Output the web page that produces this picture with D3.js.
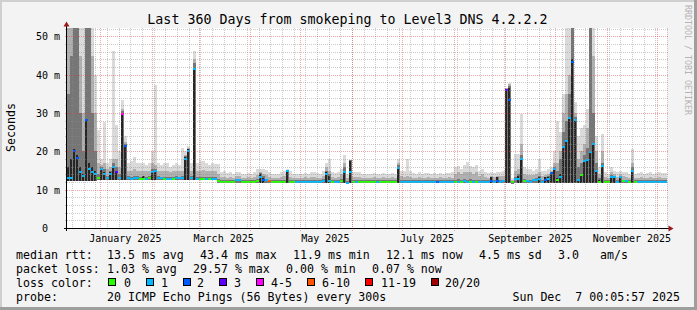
<!DOCTYPE html>
<html><head><meta charset="utf-8">
<script src="https://cdn.jsdelivr.net/npm/d3@7"></script>
<style>
html,body{margin:0;padding:0;background:#f3f3f3;}
svg{display:block;}
text{font-family:"DejaVu Sans Mono",monospace;white-space:pre;}
</style></head><body>
<svg id="chart" width="697" height="310"></svg>
<script>
// ---------------- DATA (one value per 1.8-day bucket) ----------------
const medianMs = [
13.0,13.0,20.2,18.2,14.5,13.5,28.2,15.3,14.6,14.0,
13.0,15.3,14.1,13.0,14.0,15.8,14.6,13.0,29.8,21.5,
13.0,12.9,13.0,13.0,12.8,12.8,12.9,13.0,14.6,14.8,
13.0,13.0,12.9,12.9,12.9,12.8,13.0,13.0,13.0,18.1,
20.2,13.0,41.6,12.8,12.8,12.8,12.8,12.8,12.8,12.9,
12.2,12.1,12.1,12.1,12.1,12.1,12.5,12.5,12.1,12.1,
12.1,12.1,12.1,12.2,13.3,12.5,12.4,12.2,12.1,12.1,
12.1,12.1,12.1,14.8,12.1,12.1,12.1,12.1,12.1,12.1,
12.1,12.1,12.1,12.1,12.1,12.2,14.1,12.3,12.1,12.1,
12.1,12.2,14.7,11.8,14.6,12.1,12.1,12.1,12.1,12.1,
12.1,12.1,12.1,12.1,12.1,12.1,12.1,12.1,12.1,12.1,
15.7,12.1,12.1,12.1,12.1,12.1,12.1,12.1,12.1,12.1,
12.1,12.1,12.1,12.1,12.1,12.1,12.1,12.1,12.1,12.1,
12.1,12.1,12.2,12.1,12.1,12.1,12.1,12.1,12.1,12.1,
12.1,12.3,12.1,12.3,12.1,12.2,35.9,33.3,11.9,12.8,
12.7,18.1,12.3,12.2,12.1,12.5,12.6,12.8,12.1,12.6,
12.8,14.3,15.4,12.4,13.3,21.1,22.8,28.7,43.3,28.1,
12.5,13.9,17.6,17.8,19.9,22.0,15.0,12.1,16.1,12.1,
12.1,13.3,13.3,12.1,13.3,12.3,12.2,12.1,14.8,12.1,
12.1,12.1,12.1,12.1,12.1,12.1,12.1,12.1,12.1,12.1];

// loss class index per bucket (0 = no loss ... 7 = 20/20)
const lossClass = [
1,1,2,2,1,1,2,1,1,1, 0,1,1,1,1,1,3,1,4,2, 1,1,1,1,0,0,1,0,1,1, 1,1,0,1,1,0,1,1,1,1,
1,1,1,1,0,0,1,0,1,1, 0,0,0,0,0,0,1,1,0,0, 0,0,0,0,1,2,1,5,0,0, 0,0,0,1,0,0,1,1,1,1,
1,1,1,1,1,1,1,1,0,1, 1,0,1,1,1,0,1,0,0,0, 0,0,0,1,0,0,0,0,0,0, 1,1,1,1,1,1,1,1,1,1,
1,1,1,2,1,1,1,1,1,0, 1,0,1,1,0,1,0,1,1,1, 1,2,1,2,1,1,3,2,0,1, 1,1,0,1,1,1,1,1,1,2,
1,2,1,0,1,1,1,1,2,1, 1,0,1,1,1,1,1,0,1,0, 0,1,1,1,1,0,1,0,1,0, 1,1,1,1,1,1,1,1,1,1];

// smoke: lowest ping, then tops of the darkest ... lightest shade bands (ms); 55 = off scale
const smokeLo = [
12.2,12.2,12.2,12.2,12.2,12.2,12.2,12.2,12.2,12.2,
12.4,12.4,12.4,12.4,12.4,12.4,12.4,12.4,12.4,12.4,
12.4,12.4,12.4,12.4,12.4,12.4,12.4,12.4,12.4,12.4,
12.4,12.4,12.4,12.4,12.4,12.4,12.4,12.4,12.4,12.4,
12.4,12.4,12.4,12.4,12.4,12.4,12.4,12.4,12.4,12.4,
11.8,11.8,11.8,11.8,11.8,11.8,11.8,11.8,11.8,11.8,
11.8,11.8,11.8,11.8,11.8,11.8,11.8,11.8,11.8,11.8,
11.8,11.8,11.8,11.8,11.8,11.8,11.8,11.8,11.8,11.8,
11.8,11.8,11.8,11.8,11.8,11.8,11.8,11.8,11.8,11.8,
11.8,11.8,11.8,11.5,11.8,11.8,11.8,11.8,11.8,11.8,
11.8,11.8,11.8,11.8,11.8,11.8,11.8,11.8,11.8,11.8,
11.8,11.8,11.8,11.8,11.8,11.8,11.8,11.8,11.8,11.8,
11.8,11.8,11.8,11.8,11.8,11.8,11.8,11.8,11.8,11.8,
11.8,11.8,11.8,11.8,11.8,11.8,11.8,11.8,11.8,11.8,
11.8,11.8,11.8,11.8,11.8,11.8,11.8,11.8,11.5,11.8,
11.8,11.8,11.8,11.8,11.8,11.8,11.8,11.8,11.8,11.8,
11.8,11.8,11.8,11.8,11.8,11.8,11.8,11.8,11.8,11.8,
11.8,11.8,11.8,11.8,11.8,11.8,11.8,11.8,11.8,11.8,
11.8,11.8,11.8,11.8,11.8,11.8,11.8,11.8,11.8,11.8,
11.8,11.8,11.8,11.8,11.8,11.8,11.8,11.8,11.8,11.8];

const smokeCore = [
16,18,20.5,19,16,14,28.5,17,16,15,
12.4,15.5,14.5,12.4,14.5,16,15,12.4,30,21.5,
12.4,12.4,12.4,12.4,12.4,13.7,12.4,12.4,14.8,15,
12.4,12.4,12.4,12.4,12.4,12.4,12.4,12.4,12.4,18.5,
20.5,12.4,41.8,12.4,12.4,12.4,12.4,12.4,12.4,12.5,
11.8,11.8,11.8,11.8,11.8,11.8,11.8,11.8,11.8,11.8,
11.8,11.8,11.8,11.8,14,13,11.8,11.8,11.8,11.8,
11.8,11.8,11.8,15,11.8,11.8,11.8,11.8,11.8,11.8,
11.8,11.8,11.8,11.8,11.8,11.8,14.5,13.5,11.8,11.8,
11.8,11.8,15,11.5,17.6,11.8,11.8,11.8,11.8,11.8,
11.8,11.8,11.8,11.8,11.8,11.8,11.8,11.8,11.8,11.8,
16,11.8,11.8,11.8,11.8,11.8,11.8,11.8,11.8,11.8,
11.8,11.8,11.8,11.8,11.8,11.8,11.8,11.8,11.8,11.8,
11.8,11.8,11.8,11.8,11.8,11.8,11.8,11.8,11.8,11.8,
11.8,13.3,11.8,13.3,11.8,11.8,36.3,36.5,11.5,11.8,
13.5,18.2,11.8,11.8,11.8,11.8,11.8,13.3,11.8,13.3,
13.3,14.5,15.5,13,14,21.5,23,29,44,28.3,
12.5,14.2,17.8,18,20,22.2,15.2,12.5,16.3,11.8,
11.8,13.5,13.4,11.8,13.5,11.8,11.8,11.8,15,11.8,
11.8,11.8,11.8,11.8,11.8,11.8,11.8,11.8,11.8,11.8];

const smokeDark = [
35,45,55,55,30,20,55,55,30,20,
14,16,15.5,13.5,15,17,16,14,30.5,22,
13.5,13.4,13.5,13.5,13.3,13.7,13.4,13.5,15.5,15.5,
13.5,13.4,13.4,13.4,13.3,13.3,13.5,13.4,13.5,18.7,
20.7,13.5,43,13.3,13.3,13.3,13.3,13.2,13.3,13.4,
12.8,12.4,12.4,12.4,12.4,12.4,12.9,12.9,12.4,12.4,
12.4,12.4,12.4,12.7,14.3,13.5,12.9,12.6,12.4,12.4,
12.4,12.4,12.4,15.1,12.4,12.4,12.4,12.4,12.4,12.4,
12.4,12.4,12.4,12.4,12.4,12.8,15,14,12.4,12.4,
12.4,12.8,16,12.2,17.7,12.4,12.4,12.4,12.4,12.4,
12.4,12.4,12.4,12.4,12.4,12.4,12.4,12.4,12.4,12.4,
16.5,12.4,12.4,12.4,12.4,12.4,12.4,12.4,12.4,12.4,
12.4,12.4,12.4,12.4,12.4,12.4,12.4,12.4,12.4,12.6,
12.8,12.6,12.8,12.6,12.8,12.6,12.6,12.5,12.6,12.4,
12.4,13.4,12.4,13.4,12.5,12.6,36.4,37,12.1,13.2,
14,19,12.8,12.6,12.5,12.9,13,13.6,12.6,13.4,
13.5,14.7,16,15,18,25,28,35,55,29,
16,17,19,21,55,30,17,13,17,12.4,
12.4,13.8,13.6,12.4,13.6,12.6,12.5,12.4,16,12.4,
12.4,12.4,12.4,12.4,12.4,12.4,12.4,12.4,12.4,12.4];

const smokeMid = [
55,55,55,55,45,30,55,55,45,30,
17,16.5,17,15.5,16,18,18,16,31,22.5,
15,15,15.5,15,15,15,14.8,15,17,16.5,
15,14.8,15,15,14.5,14.8,15,14.8,15,19,
21,15,44,15,15,15.2,15,14.8,15,15,
14,13.2,13.2,13,13.2,13,13.5,13.5,13,13,
13.2,13,13.2,13.8,14.6,14,13.8,13.2,13,13,
13,13.2,13.5,15.2,13.3,13,13,13,13,13.2,
13,13.2,13.2,13,13,13.5,16,15,13.2,13,
13.2,14,17,13,17.7,13.2,13.2,13.2,13,13,
13,13,13.2,13,13,13.2,13,13,13.2,13,
17,13.5,13.2,13.5,13.2,13,13,13.2,13,13,
13.2,13,13,13,13.2,13,13,13.2,13,14,
14.5,14,14.5,14.5,14.5,14,14.5,13.5,14,13.2,
13,13.5,13.2,13.5,13.5,13.5,36.5,37.5,12.5,15,
15.5,22,14,13.8,13.8,13.8,14,14.5,13.5,13.8,
14,15,17,17,20,30,35,40,55,30,
18,20,22,26,55,45,20,14,20,13.2,
13,14.5,14,13.2,14,13.5,13.3,13,17,13,
13,13.2,13,13,13.2,13,13,13.2,13,13];

const smokeHi = [
55,55,55,55,55,55,55,55,55,40,
25.5,18,27.6,17,18,46.3,27,20,33.3,24,
17,17.5,18.5,17,17,17,16.5,17,20.2,37.2,
17,16.5,17,17,16,16.5,17,16.5,21,20,
21.5,17,46.3,17,17.5,17.5,17,16.5,17,16.7,
16.7,14.5,14.8,14.3,14.5,14.2,14.6,14.6,14.2,14,
14.3,14,14.5,15.4,15.5,15.4,15.2,14.5,14,14.2,
14,14.5,15,15.5,14.8,14.2,14,14.2,14,14.3,
14.2,14.6,14.6,14.4,14.2,15,17,18,14.5,14.3,
14.5,15.5,19.1,14.2,17.8,14.6,14.6,14.5,14.2,14.2,
14.2,14,14.3,14.2,14,14.4,14.2,14,14.3,14.2,
18.1,14.8,15,18,15,14.4,14.2,14.5,14.2,14.4,
14.3,14.2,14.4,14.2,14.3,14.2,14.4,14.3,14.5,15.8,
16.3,15.5,16.5,17.2,16.3,15.8,16.5,15,15.5,14.5,
14.3,14.5,14.3,14.5,14.6,15,36.6,37.8,13,19.4,
19.4,29.8,16,15.5,15.5,15,15.5,18,15,15,
15.5,16,20,28,25,35,55,55,55,33,
24,26,27,31,55,55,24,16,24.6,14.5,
14,16,15,14.5,14.8,14.5,14.5,14,20.5,14.2,
14.3,14.5,14.2,14.4,14.5,14.2,14.3,14.5,14.4,14.3];

const lossLabels = ["0","1","2","3","4-5","6-10","11-19","20/20"];
const lossColors = ["#26ff00","#00b8ff","#0059ff","#6200ff","#ff00ff","#ff5500","#ff0000","#a10000"];
const yTickValues = [0,10,20,30,40,50];
const yTickLabels = ["0  ","10 m","20 m","30 m","40 m","50 m"];
const xLabelMonths = ["2025-01","2025-03","2025-05","2025-07","2025-09","2025-11"];
const xTickLabels = ["January 2025","March 2025","May 2025","July 2025","September 2025","November 2025"];
const titleText = "Last 360 Days from smokeping to Level3 DNS 4.2.2.2";
const rttStats = ["13.5 ms avg","43.4 ms max","11.9 ms min","12.1 ms now","4.5 ms sd","3.0","am/s"];
const lossStats = ["1.03 % avg","29.57 % max","0.00 % min","0.07 % now"];
const probeText = "20 ICMP Echo Pings (56 Bytes) every 300s";
const dateText = "Sun Dec  7 00:05:57 2025";
const endTime = new Date(Date.UTC(2025, 11, 7, 0, 5, 57));
const spanDays = 360, bucketDays = 1.8, yMax = 52.2;

// ---------------- LAYOUT ----------------
const W = 697, H = 310;
const L = 67, R = 667, T = 28, B = 228;
const rttX = [107,200,293,386,479,558,600];
const lossX = [107,193,286,372];
const boxX = [108,146,183,219,256,307,365,431];
const boxLabelX = [124,161,197,234,271,322,381,445];

const svg = d3.select("#chart");
svg.append("rect").attr("width", W).attr("height", H).attr("fill", "#f3f3f3");
svg.append("rect").attr("x",0).attr("y",0).attr("width",W).attr("height",2).attr("fill","#cfcfcf");
svg.append("rect").attr("x",0).attr("y",0).attr("width",2).attr("height",H).attr("fill","#cfcfcf");
svg.append("rect").attr("x",0).attr("y",H-3).attr("width",W).attr("height",3).attr("fill","#9e9e9e");
svg.append("rect").attr("x",W-3).attr("y",0).attr("width",3).attr("height",H).attr("fill","#9e9e9e");

const startTime = new Date(endTime.getTime() - spanDays * 864e5);
const x = d3.scaleUtc().domain([startTime, endTime]).range([L, R]);
const y = d3.scaleLinear().domain([0, yMax]).range([B, T]);
const N = medianMs.length;
const bt = i => new Date(startTime.getTime() + i * bucketDays * 864e5);

svg.append("defs").append("clipPath").attr("id","clip")
  .append("rect").attr("x",L).attr("y",T).attr("width",R-L).attr("height",B-T);
svg.append("rect").attr("x",L).attr("y",T).attr("width",R-L).attr("height",B-T).attr("fill","#ffffff");

const plot = svg.append("g").attr("clip-path","url(#clip)").attr("shape-rendering","crispEdges");
const idx = d3.range(N);
const bands = [
  {vals: smokeHi, color: "#dadada", narrow: 0},
  {vals: smokeMid, color: "#b0b0b0", narrow: 0},
  {vals: smokeDark, color: "#767676", narrow: 0},
  {vals: smokeCore, color: "#262626", narrow: 1}
];
bands.forEach(b => {
  plot.append("g").selectAll("rect").data(idx.filter(i => b.vals[i] > smokeLo[i])).join("rect")
    .attr("x", i => Math.round(x(bt(i))))
    .attr("width", i => Math.round(x(bt(i+1))) - Math.round(x(bt(i))) - b.narrow)
    .attr("y", i => Math.round(y(b.vals[i])))
    .attr("height", i => Math.round(y(smokeLo[i])) - Math.round(y(b.vals[i])))
    .attr("fill", b.color);
});
plot.append("g").selectAll("rect").data(idx).join("rect")
  .attr("x", i => Math.round(x(bt(i))))
  .attr("width", i => Math.round(x(bt(i+1))) - Math.round(x(bt(i))))
  .attr("y", i => Math.round(y(medianMs[i])) - 1)
  .attr("height", 2)
  .attr("fill", i => lossColors[lossClass[i]]);

// ---------------- GRID ----------------
const grid = svg.append("g").attr("shape-rendering","crispEdges").attr("stroke-dasharray","1,1");
const minorY = d3.range(2, yMax, 2).filter(v => v % 10 !== 0);
grid.selectAll(".hmin").data(minorY).join("line")
  .attr("x1", L-2).attr("x2", R+2)
  .attr("y1", v => Math.round(y(v)) + 0.5).attr("y2", v => Math.round(y(v)) + 0.5)
  .attr("stroke", "rgba(140,140,140,0.45)");
const weeks = d3.utcSunday.range(startTime, endTime);
grid.selectAll(".vmin").data(weeks).join("line")
  .attr("x1", d => Math.round(x(d)) + 0.5).attr("x2", d => Math.round(x(d)) + 0.5)
  .attr("y1", T).attr("y2", B + 2)
  .attr("stroke", "rgba(140,140,140,0.45)");
grid.selectAll(".hmaj").data(yTickValues.filter(v => v > 0)).join("line")
  .attr("x1", L-2).attr("x2", R+2)
  .attr("y1", v => Math.round(y(v)) + 0.5).attr("y2", v => Math.round(y(v)) + 0.5)
  .attr("stroke", "rgba(220,60,60,0.45)");
const months = d3.utcMonth.range(startTime, endTime);
grid.selectAll(".vmaj").data(months).join("line")
  .attr("x1", d => Math.round(x(d)) + 0.5).attr("x2", d => Math.round(x(d)) + 0.5)
  .attr("y1", T).attr("y2", B + 3)
  .attr("stroke", "rgba(220,60,60,0.45)");

// ---------------- AXES ----------------
const ax = svg.append("g").attr("shape-rendering","crispEdges");
ax.append("line").attr("x1", L-3).attr("x2", R+3).attr("y1", B+0.5).attr("y2", B+0.5).attr("stroke","#000");
ax.append("line").attr("x1", L-0.5).attr("x2", L-0.5).attr("y1", B+3).attr("y2", T-3).attr("stroke","#000");
svg.append("path").attr("d", `M${L-0.5},${T-6.5} L${L-3.5},${T-1.5} L${L+2.5},${T-1.5} Z`).attr("fill","#9b1c1c");
svg.append("path").attr("d", `M${R+6.5},${B+0.5} L${R+1.5},${B-2.5} L${R+1.5},${B+3.5} Z`).attr("fill","#9b1c1c");

const tickFont = "10px";
svg.append("g").selectAll("text").data(yTickValues).join("text")
  .attr("x", 60).attr("y", v => Math.round(y(v)) + 3.8)
  .attr("text-anchor","end").attr("font-size", tickFont).attr("fill","#000")
  .text((v,i) => yTickLabels[i]);
svg.append("g").selectAll("text").data(xLabelMonths).join("text")
  .attr("x", m => x(new Date(Date.parse(m + "-01T00:00:00Z") + 15*864e5)))
  .attr("y", 241.5).attr("text-anchor","middle").attr("font-size", tickFont).attr("fill","#000")
  .text((m,i) => xTickLabels[i]);

svg.append("text").attr("x", 347.5).attr("y", 24).attr("text-anchor","middle")
  .attr("font-size","13.3px").attr("fill","#000").text(titleText);
svg.append("text").attr("transform","translate(15,127.5) rotate(-90)").attr("text-anchor","middle")
  .attr("font-size","11.6px").attr("fill","#000").text("Seconds");
svg.append("text").attr("transform","translate(685,5) rotate(90)").attr("text-anchor","start")
  .attr("font-size","8.3px").attr("fill","#b4b4b4").text("RRDTOOL / TOBI OETIKER");

// ---------------- LEGEND ----------------
const lf = "11.6px";
const leg = svg.append("g").attr("font-size", lf).attr("fill", "#000");
const rows = [258.5, 272.5, 286.5, 300.5];
leg.append("text").attr("x",16).attr("y",rows[0]).text("median rtt:");
leg.selectAll(".r1").data(rttStats).join("text").attr("x",(d,i)=>rttX[i]).attr("y",rows[0]).text(d=>d);
leg.append("text").attr("x",16).attr("y",rows[1]).text("packet loss:");
leg.selectAll(".r2").data(lossStats).join("text").attr("x",(d,i)=>lossX[i]).attr("y",rows[1]).text(d=>d);
leg.append("text").attr("x",16).attr("y",rows[2]).text("loss color:");
leg.selectAll(".box").data(lossLabels).join("rect")
  .attr("x",(d,i)=>boxX[i]+0.5).attr("y",278.5).attr("width",7).attr("height",7)
  .attr("fill",(d,i)=>lossColors[i]).attr("stroke","#000").attr("shape-rendering","crispEdges");
leg.selectAll(".bl").data(lossLabels).join("text").attr("x",(d,i)=>boxLabelX[i]).attr("y",rows[2]).text(d=>d);
leg.append("text").attr("x",16).attr("y",rows[3]).text("probe:");
leg.append("text").attr("x",107).attr("y",rows[3]).text(probeText);
leg.append("text").attr("x",680).attr("y",rows[3]).attr("text-anchor","end").text(dateText);
</script>
</body></html>
